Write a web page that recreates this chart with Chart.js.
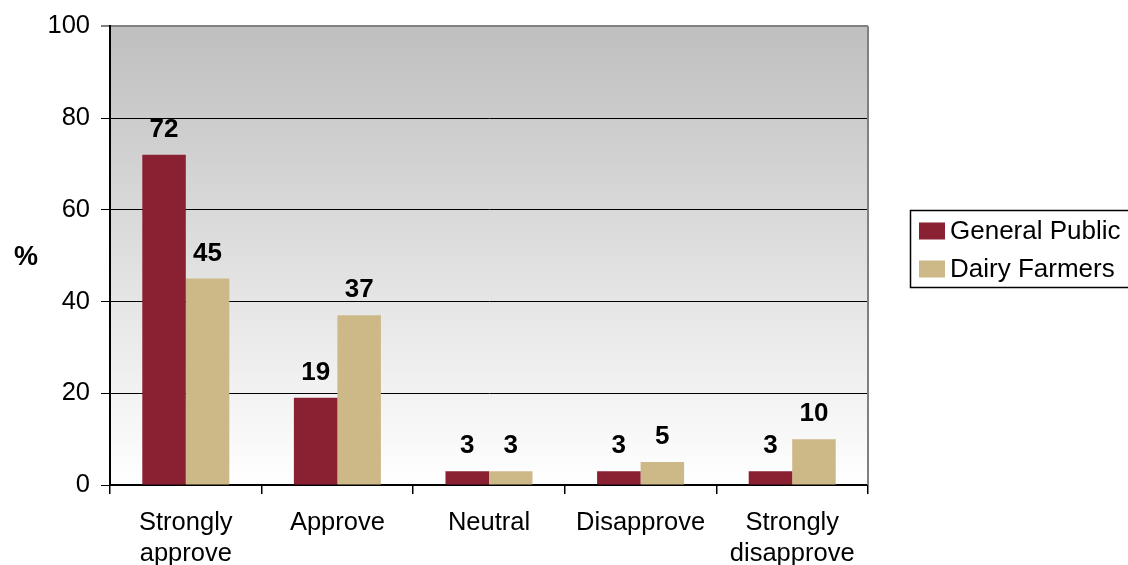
<!DOCTYPE html>
<html>
<head>
<meta charset="utf-8">
<script src="https://cdn.jsdelivr.net/npm/chart.js@4/dist/chart.umd.min.js"></script>
<style>
  html, body { margin: 0; padding: 0; background: #fff; }
  #wrap { width: 1128px; height: 565px; position: relative; }
</style>
</head>
<body>
<div id="wrap"><canvas id="c" width="1128" height="565"></canvas></div>
<script>
const categories = [['Strongly', 'approve'], 'Approve', 'Neutral', 'Disapprove', ['Strongly', 'disapprove']];
const seriesNames = ['General Public', 'Dairy Farmers'];
const generalPublic = [72, 19, 3, 3, 3];
const dairyFarmers = [45, 37, 3, 5, 10];
const seriesColors = ['#8a2133', '#cdb987'];
const yMin = 0, yMax = 100, yStep = 20;
const yTitle = '%';

const FONT = '"Liberation Sans", Arial, sans-serif';

// gradient fill behind the plot area
const plotBackground = {
  id: 'plotBackground',
  beforeDraw(chart) {
    const { ctx, chartArea: a } = chart;
    const g = ctx.createLinearGradient(0, a.top, 0, a.bottom);
    g.addColorStop(0, '#bfbfbf');
    g.addColorStop(1, '#ffffff');
    ctx.save();
    ctx.fillStyle = g;
    ctx.fillRect(a.left, a.top, a.right - a.left, a.bottom - a.top);
    ctx.restore();
  },
  afterDraw(chart) {
    const { ctx, chartArea: a } = chart;
    ctx.save();
    ctx.strokeStyle = '#808080';
    ctx.lineWidth = 2;
    ctx.beginPath();
    ctx.moveTo(a.right, a.top);
    ctx.lineTo(a.right, a.bottom);
    ctx.stroke();
    ctx.restore();
  }
};

// value labels above each bar
const valueLabels = {
  id: 'valueLabels',
  afterDatasetsDraw(chart) {
    const { ctx } = chart;
    ctx.save();
    ctx.font = 'bold 26px ' + FONT;
    ctx.fillStyle = '#000';
    ctx.textAlign = 'center';
    ctx.textBaseline = 'alphabetic';
    chart.data.datasets.forEach((ds, i) => {
      chart.getDatasetMeta(i).data.forEach((bar, j) => {
        ctx.fillText(String(ds.data[j]), bar.x, bar.y - 18);
      });
    });
    ctx.restore();
  }
};

// horizontal "%" axis title and boxed legend at the right
const sideTexts = {
  id: 'sideTexts',
  afterDraw(chart) {
    const { ctx } = chart;
    ctx.save();
    ctx.fillStyle = '#000';
    ctx.font = 'bold 27px ' + FONT;
    ctx.textAlign = 'center';
    ctx.textBaseline = 'middle';
    ctx.fillText(yTitle, 26, 258);

    // legend
    ctx.strokeStyle = '#000';
    ctx.lineWidth = 1.5;
    ctx.strokeRect(910.5, 210.5, 240, 77);
    ctx.font = '26px ' + FONT;
    ctx.textAlign = 'left';
    chart.data.datasets.forEach((ds, i) => {
      const cy = 231 + i * 38;
      ctx.fillStyle = ds.backgroundColor;
      ctx.fillRect(919, cy - 8.5, 26, 17);
      ctx.fillStyle = '#000';
      ctx.fillText(ds.label, 950, cy + 1);
    });
    ctx.restore();
  }
};

new Chart(document.getElementById('c'), {
  type: 'bar',
  data: {
    labels: categories,
    datasets: [
      { label: seriesNames[0], data: generalPublic, backgroundColor: seriesColors[0] },
      { label: seriesNames[1], data: dairyFarmers, backgroundColor: seriesColors[1] }
    ]
  },
  options: {
    responsive: false,
    animation: false,
    devicePixelRatio: 1,
    layout: { padding: { top: 25, right: 260, bottom: 0, left: 0 } },
    datasets: { bar: { categoryPercentage: 0.574, barPercentage: 1.0 } },
    plugins: {
      legend: { display: false },
      tooltip: { enabled: false }
    },
    scales: {
      x: {
        offset: true,
        grid: {
          display: true,
          offset: true,
          drawOnChartArea: false,
          drawTicks: true,
          tickLength: 9,
          color: '#000',
          lineWidth: 1.5
        },
        border: { display: true, color: '#000', width: 2 },
        ticks: {
          color: '#000',
          font: { family: FONT, size: 25.5, lineHeight: 1.22 },
          padding: 13,
          maxRotation: 0,
          autoSkip: false
        },
        afterFit(scale) { scale.height = 80; }
      },
      y: {
        min: yMin,
        max: yMax,
        grid: {
          color: ctx => (ctx.tick && ctx.tick.value === yMax) ? '#808080' : '#000',
          lineWidth: ctx => (ctx.tick && ctx.tick.value === yMax) ? 2 : 1,
          drawTicks: true,
          tickLength: 9
        },
        border: { display: true, color: '#000', width: 2 },
        ticks: {
          stepSize: yStep,
          color: '#000',
          font: { family: FONT, size: 25.5 },
          padding: 11
        },
        afterFit(scale) { scale.width = 110; }
      }
    }
  },
  plugins: [plotBackground, valueLabels, sideTexts]
});
</script>
</body>
</html>
